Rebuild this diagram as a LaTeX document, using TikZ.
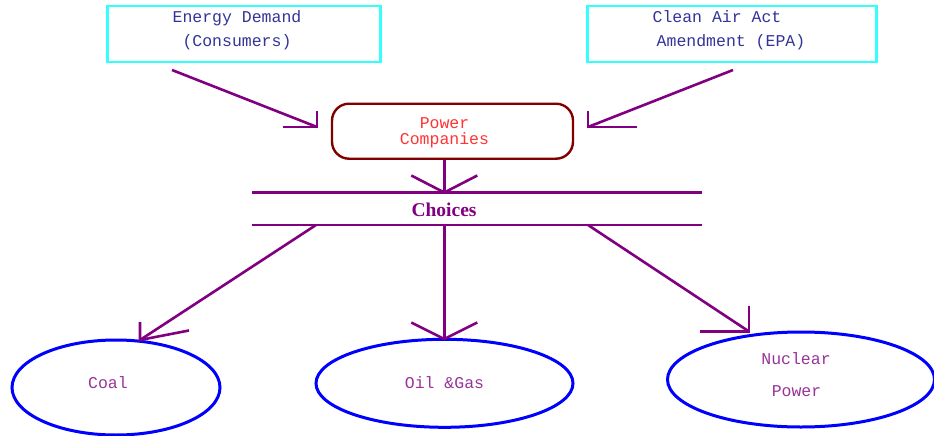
\documentclass[tikz,border=0pt]{standalone}
\usepackage{fontspec}
\setmainfont{Liberation Serif}
\newfontfamily\monofont{Liberation Mono}
\usetikzlibrary{shapes.geometric}
\definecolor{cyanb}{HTML}{33FFFF}
\definecolor{navytxt}{HTML}{333399}
\definecolor{arrowp}{HTML}{800080}
\definecolor{pcborder}{HTML}{800000}
\definecolor{pctext}{HTML}{FF3333}
\definecolor{elltxt}{HTML}{993399}
\definecolor{ellblue}{HTML}{0000FF}
\begin{document}
\begin{tikzpicture}[x=1pt,y=-1pt,
  srcbox/.style={draw=cyanb, line width=2.2pt, inner sep=0pt},
  srctext/.style={text=navytxt, font=\monofont\fontsize{16.5}{18}\selectfont, anchor=base, inner sep=0pt},
  pcbox/.style={draw=pcborder, line width=2.4pt, rounded corners=17pt, inner sep=0pt},
  pctxt/.style={text=pctext, font=\monofont\fontsize{16.5}{18}\selectfont, anchor=base, inner sep=0pt},
  choicebox/.style={text=arrowp, font=\bfseries\fontsize{19.5}{22}\selectfont, anchor=base, inner sep=0pt},
  opt/.style={draw=ellblue, ellipse, line width=3pt, inner sep=0pt},
  opttxt/.style={text=elltxt, font=\monofont\fontsize{16.5}{18}\selectfont, anchor=base, inner sep=0pt},
  conn/.style={draw=arrowp, line width=2.6pt},
  bar/.style={draw=arrowp, line width=2.6pt}]
\useasboundingbox (0,0) rectangle (934,436);

% source boxes
\node[srcbox, minimum width=273pt, minimum height=56pt] (ed) at (244,34) {};
\node[srctext] (ed1) at (237,23) {Energy Demand};
\node[srctext] (ed2) at (237,47) {(Consumers)};
\node[srcbox, minimum width=289pt, minimum height=56pt] (caa) at (732,34) {};
\node[srctext] (caa1) at (717,23) {Clean Air Act};
\node[srctext] (caa2) at (731,47) {Amendment (EPA)};

% power companies
\node[pcbox, minimum width=241pt, minimum height=55pt] (pc) at (452.5,131.2) {};
\node[pctxt] (pc1) at (444.5,128.5) {Power};
\node[pctxt] (pc2) at (444.5,144) {Companies};

% choices bars
\coordinate (bl1) at (252,192.5);
\coordinate (br1) at (702,192.5);
\coordinate (bl2) at (252,225);
\coordinate (br2) at (702,225);
\draw[bar] (bl1) -- (br1);
\draw[bar] (bl2) -- (br2);
\node[choicebox] (ch) at (444,216.5) {Choices};

% options
\node[opt, minimum width=208pt, minimum height=95pt] (coal) at (116,387.5) {};
\node[opttxt] (coalt) at (108,388) {Coal};
\node[opt, minimum width=257pt, minimum height=88pt] (oil) at (444.5,383.3) {};
\node[opttxt] (oilt) at (444.5,388) {Oil \&Gas};
\node[opt, minimum width=267pt, minimum height=95pt] (nuc) at (801,379.5) {};
\node[opttxt] (nuct1) at (796,364) {Nuclear};
\node[opttxt] (nuct2) at (796.5,396) {Power};

% connector end points
\coordinate (edS) at (172,70);
\coordinate (edE) at (317,127);
\coordinate (caS) at (733,70);
\coordinate (caE) at (588,127);
\coordinate (pcS) at (444.3,159.5);
\coordinate (pcE) at (444.3,192.5);
\coordinate (coS) at (316,225);
\coordinate (coE) at (140,340);
\coordinate (oiS) at (444.3,225);
\coordinate (oiE) at (444.3,339);
\coordinate (nuS) at (588,225);
\coordinate (nuE) at (749,331.5);

% connectors
\draw[conn] (edS) -- (edE);
\draw[conn] (edE) +(0,-16) -- (edE) -- +(-34,0);
\draw[conn] (caS) -- (caE);
\draw[conn] (caE) +(0,-16) -- (caE) -- +(49,0);
\draw[conn] (pcS) -- (pcE);
\draw[conn] (pcE) +(-33,-17) -- (pcE) -- +(33,-17);
\draw[conn] (coS) -- (coE);
\draw[conn] (coE) +(0,-18) -- (coE) -- +(49,-9.5);
\draw[conn] (oiS) -- (oiE);
\draw[conn] (oiE) +(-33,-16.5) -- (oiE) -- +(33,-16.5);
\draw[conn] (nuS) -- (nuE);
\draw[conn] (nuE) +(0,-26) -- (nuE) -- +(-49,0);
\end{tikzpicture}
\end{document}
